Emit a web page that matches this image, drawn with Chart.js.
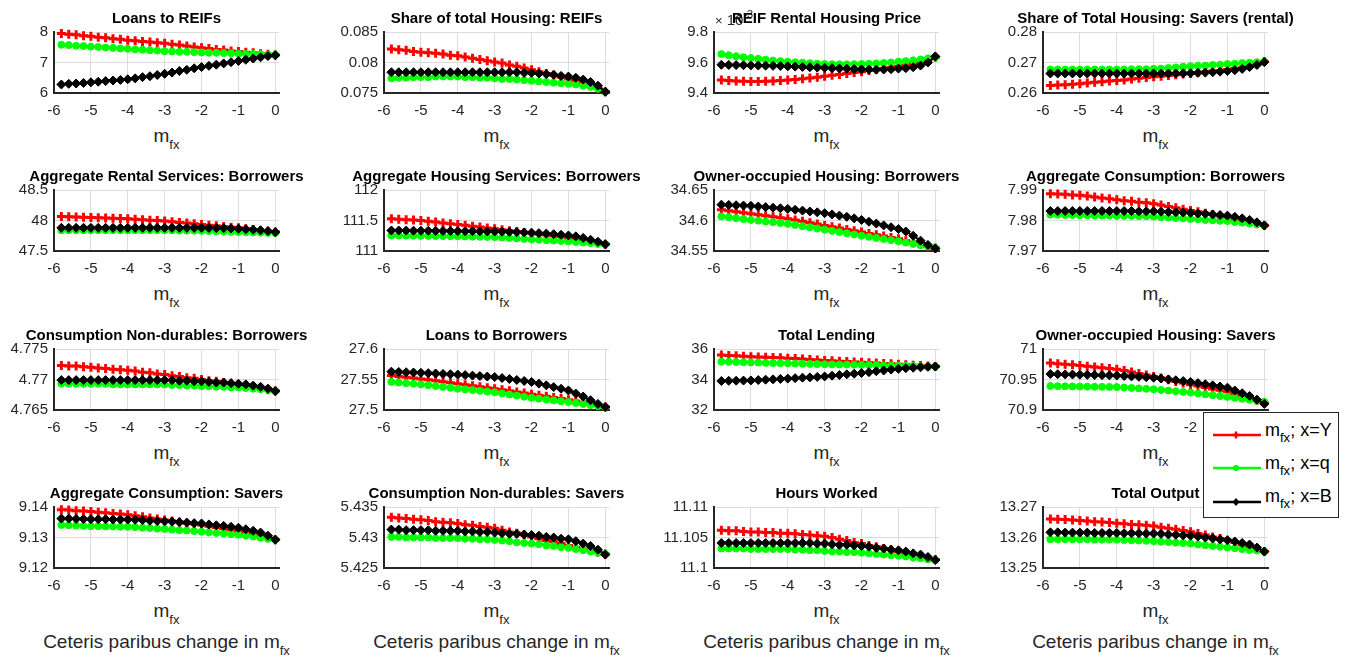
<!DOCTYPE html>
<html><head><meta charset="utf-8">
<script src="https://cdn.jsdelivr.net/npm/chart.js@4/dist/chart.umd.min.js"></script>
<style>
body{margin:0;width:1352px;height:662px;background:#fff;position:relative;overflow:hidden;font-family:"Liberation Sans",Arial,sans-serif;color:#262626}
canvas.pc{position:absolute}
.ttl{position:absolute;font-weight:bold;font-size:15px;line-height:15px;white-space:nowrap;color:#000;transform:translateX(-50%);z-index:3}
.xl{position:absolute;font-size:19px;line-height:19px;white-space:nowrap;transform:translateX(-50%);color:#262626}
.xl span,.lg span,.expo span{position:relative}
.expo{position:absolute;font-size:15px;line-height:15px;white-space:nowrap;color:#262626;z-index:2}
#legend{position:absolute;left:1203px;top:412px;width:136px;height:106px;box-sizing:border-box;border:1px solid #262626;background:#fff;z-index:5}
.lg{position:absolute;left:61px;font-size:18px;line-height:18px;white-space:nowrap;color:#000}
.ls{position:absolute;left:8px}
</style></head><body>
<script>
// ---- data ----
const xValues = [-5.8,-5.6,-5.4,-5.2,-5.0,-4.8,-4.6,-4.4,-4.2,-4.0,-3.8,-3.6,-3.4,-3.2,-3.0,-2.8,-2.6,-2.4,-2.2,-2.0,-1.8,-1.6,-1.4,-1.2,-1.0,-0.8,-0.6,-0.4,-0.2,0.0];
const xTickValues = [-6,-5,-4,-3,-2,-1,0];
const seriesNames = ["m_fx; x=Y","m_fx; x=q","m_fx; x=B"];

const titles = ["Loans to REIFs","Share of total Housing: REIFs","REIF Rental Housing Price","Share of Total Housing: Savers (rental)",
"Aggregate Rental Services: Borrowers","Aggregate Housing Services: Borrowers","Owner-occupied Housing: Borrowers","Aggregate Consumption: Borrowers",
"Consumption Non-durables: Borrowers","Loans to Borrowers","Total Lending","Owner-occupied Housing: Savers",
"Aggregate Consumption: Savers","Consumption Non-durables: Savers","Hours Worked","Total Output"];

const yTicks = [[6,7,8],[0.075,0.08,0.085],[9.4,9.6,9.8],[0.26,0.27,0.28],
[47.5,48,48.5],[111,111.5,112],[34.55,34.6,34.65],[7.97,7.98,7.99],
[4.765,4.77,4.775],[27.5,27.55,27.6],[32,34,36],[70.9,70.95,71],
[9.12,9.13,9.14],[5.425,5.43,5.435],[11.1,11.105,11.11],[13.25,13.26,13.27]];
const yTickLabels = [["6","7","8"],["0.075","0.08","0.085"],["9.4","9.6","9.8"],["0.26","0.27","0.28"],
["47.5","48","48.5"],["111","111.5","112"],["34.55","34.6","34.65"],["7.97","7.98","7.99"],
["4.765","4.77","4.775"],["27.5","27.55","27.6"],["32","34","36"],["70.9","70.95","71"],
["9.12","9.13","9.14"],["5.425","5.43","5.435"],["11.1","11.105","11.11"],["13.25","13.26","13.27"]];

// 1 Loans to REIFs
const loansREIF_Y = [7.95,7.93,7.91,7.88,7.86,7.83,7.81,7.78,7.76,7.73,7.71,7.69,7.67,7.65,7.63,7.60,7.57,7.54,7.51,7.48,7.46,7.43,7.41,7.38,7.36,7.34,7.32,7.29,7.27,7.25];
const loansREIF_q = [7.58,7.57,7.55,7.54,7.52,7.51,7.49,7.48,7.46,7.45,7.43,7.42,7.40,7.39,7.37,7.36,7.35,7.35,7.34,7.33,7.32,7.32,7.31,7.30,7.29,7.28,7.28,7.27,7.26,7.25];
const loansREIF_B = [6.28,6.30,6.31,6.33,6.35,6.37,6.39,6.41,6.43,6.45,6.48,6.52,6.55,6.59,6.63,6.67,6.72,6.76,6.81,6.85,6.89,6.93,6.97,7.01,7.05,7.09,7.13,7.17,7.21,7.24];
// 2 Share of total Housing: REIFs
const shareREIF_Y = [0.0822,0.0821,0.0820,0.0818,0.0817,0.0816,0.0815,0.0814,0.0812,0.0811,0.0809,0.0807,0.0805,0.0803,0.0801,0.0799,0.0796,0.0794,0.0791,0.0788,0.0785,0.0782,0.0779,0.0776,0.0773,0.0770,0.0767,0.0763,0.0758,0.0752];
const shareREIF_q = [0.0774,0.0775,0.0775,0.0776,0.0776,0.0776,0.0777,0.0777,0.0777,0.0777,0.0776,0.0776,0.0775,0.0775,0.0774,0.0773,0.0773,0.0772,0.0771,0.0770,0.0769,0.0768,0.0767,0.0766,0.0765,0.0764,0.0762,0.0760,0.0757,0.0752];
const shareREIF_B = [0.0784,0.0784,0.0784,0.0784,0.0784,0.0784,0.0784,0.0784,0.0784,0.0784,0.0784,0.0784,0.0784,0.0784,0.0784,0.0784,0.0784,0.0784,0.0783,0.0783,0.0782,0.0781,0.0780,0.0778,0.0777,0.0775,0.0772,0.0768,0.0762,0.0752];
// 3 REIF Rental Housing Price (x 10^-3)
const rentPrice_Y = [9.485,9.482,9.479,9.477,9.476,9.476,9.477,9.479,9.482,9.485,9.489,9.494,9.499,9.504,9.510,9.516,9.522,9.528,9.534,9.540,9.547,9.554,9.561,9.568,9.575,9.584,9.594,9.605,9.619,9.635];
const rentPrice_q = [9.655,9.648,9.641,9.635,9.630,9.624,9.618,9.613,9.609,9.605,9.601,9.598,9.595,9.592,9.590,9.589,9.588,9.588,9.589,9.590,9.592,9.594,9.597,9.600,9.605,9.609,9.614,9.620,9.627,9.635];
const rentPrice_B = [9.585,9.584,9.583,9.582,9.581,9.580,9.579,9.578,9.577,9.575,9.573,9.571,9.569,9.567,9.565,9.563,9.561,9.559,9.557,9.555,9.554,9.553,9.554,9.556,9.560,9.563,9.569,9.580,9.600,9.640];
// 4 Share of Total Housing: Savers (rental)
const shareSavers_Y = [0.2625,0.2626,0.2627,0.2629,0.2630,0.2633,0.2635,0.2637,0.2639,0.2641,0.2643,0.2646,0.2648,0.2651,0.2653,0.2655,0.2657,0.2660,0.2662,0.2664,0.2667,0.2669,0.2672,0.2674,0.2677,0.2680,0.2683,0.2687,0.2694,0.2703];
const shareSavers_q = [0.2677,0.2677,0.2677,0.2677,0.2677,0.2677,0.2677,0.2677,0.2677,0.2677,0.2677,0.2678,0.2678,0.2678,0.2679,0.2680,0.2682,0.2684,0.2686,0.2688,0.2689,0.2690,0.2692,0.2693,0.2695,0.2696,0.2698,0.2699,0.2701,0.2703];
const shareSavers_B = [0.2664,0.2664,0.2664,0.2664,0.2664,0.2664,0.2664,0.2664,0.2664,0.2664,0.2664,0.2664,0.2664,0.2664,0.2664,0.2664,0.2664,0.2664,0.2665,0.2665,0.2666,0.2667,0.2668,0.2670,0.2672,0.2675,0.2679,0.2685,0.2692,0.2701];
// 5 Aggregate Rental Services: Borrowers
const rentServB_Y = [48.065,48.061,48.057,48.053,48.049,48.045,48.042,48.038,48.034,48.030,48.022,48.014,48.006,47.998,47.990,47.979,47.968,47.957,47.946,47.935,47.924,47.913,47.902,47.891,47.880,47.866,47.852,47.838,47.824,47.810];
const rentServB_q = [47.840,47.840,47.840,47.840,47.840,47.840,47.840,47.840,47.840,47.840,47.840,47.840,47.840,47.840,47.840,47.838,47.836,47.834,47.832,47.830,47.826,47.822,47.818,47.814,47.810,47.807,47.804,47.801,47.798,47.795];
const rentServB_B = [47.880,47.880,47.880,47.880,47.880,47.880,47.880,47.880,47.880,47.880,47.880,47.880,47.880,47.880,47.880,47.880,47.880,47.880,47.880,47.880,47.879,47.877,47.874,47.870,47.865,47.858,47.850,47.840,47.827,47.810];
// 6 Aggregate Housing Services: Borrowers
const houseServB_Y = [111.527,111.520,111.513,111.507,111.500,111.487,111.474,111.461,111.448,111.435,111.421,111.407,111.393,111.378,111.364,111.349,111.334,111.320,111.305,111.290,111.275,111.261,111.246,111.232,111.217,111.197,111.176,111.155,111.133,111.110];
const houseServB_q = [111.255,111.253,111.252,111.250,111.248,111.247,111.245,111.244,111.242,111.240,111.238,111.235,111.233,111.230,111.228,111.221,111.213,111.205,111.198,111.190,111.184,111.177,111.171,111.164,111.158,111.149,111.139,111.130,111.120,111.110];
const houseServB_B = [111.337,111.336,111.335,111.333,111.332,111.331,111.330,111.329,111.328,111.326,111.325,111.324,111.323,111.321,111.320,111.317,111.314,111.310,111.305,111.300,111.293,111.285,111.276,111.266,111.255,111.240,111.215,111.185,111.152,111.110];
// 7 Owner-occupied Housing: Borrowers
const ownerB_Y = [34.6176,34.6160,34.6143,34.6127,34.6110,34.6094,34.6078,34.6062,34.6046,34.6030,34.6008,34.5986,34.5964,34.5942,34.5920,34.5898,34.5876,34.5854,34.5832,34.5810,34.5788,34.5766,34.5744,34.5722,34.5700,34.5670,34.5640,34.5610,34.5580,34.5550];
const ownerB_q = [34.6066,34.6052,34.6038,34.6024,34.6010,34.5997,34.5984,34.5971,34.5958,34.5945,34.5926,34.5907,34.5888,34.5869,34.5850,34.5830,34.5810,34.5790,34.5770,34.5750,34.5732,34.5714,34.5696,34.5678,34.5660,34.5638,34.5616,34.5594,34.5572,34.5550];
const ownerB_B = [34.6260,34.6255,34.6250,34.6245,34.6240,34.6230,34.6220,34.6210,34.6200,34.6190,34.6176,34.6162,34.6148,34.6134,34.6120,34.6100,34.6080,34.6060,34.6035,34.6010,34.5980,34.5950,34.5920,34.5890,34.5860,34.5820,34.5750,34.5670,34.5600,34.5540];
// 8 Aggregate Consumption: Borrowers
const consB_Y = [7.9888,7.9887,7.9886,7.9884,7.9883,7.9880,7.9877,7.9874,7.9871,7.9868,7.9865,7.9863,7.9860,7.9858,7.9855,7.9851,7.9846,7.9842,7.9837,7.9833,7.9829,7.9824,7.9820,7.9815,7.9811,7.9806,7.9800,7.9795,7.9789,7.9784];
const consB_q = [7.9819,7.9819,7.9818,7.9818,7.9817,7.9817,7.9816,7.9816,7.9816,7.9815,7.9815,7.9815,7.9814,7.9814,7.9813,7.9811,7.9810,7.9808,7.9807,7.9805,7.9804,7.9802,7.9801,7.9799,7.9798,7.9795,7.9793,7.9790,7.9787,7.9784];
const consB_B = [7.9831,7.9831,7.9831,7.9831,7.9831,7.9831,7.9831,7.9831,7.9831,7.9831,7.9831,7.9831,7.9830,7.9830,7.9830,7.9829,7.9828,7.9827,7.9826,7.9825,7.9823,7.9822,7.9820,7.9818,7.9816,7.9812,7.9807,7.9802,7.9794,7.9784];
// 9 Consumption Non-durables: Borrowers
const ndurB_Y = [4.7723,4.7722,4.7722,4.7721,4.7720,4.7719,4.7718,4.7717,4.7716,4.7715,4.7714,4.7712,4.7711,4.7709,4.7708,4.7706,4.7705,4.7703,4.7702,4.7700,4.7698,4.7697,4.7695,4.7694,4.7692,4.7690,4.7688,4.7686,4.7683,4.7681];
const ndurB_q = [4.7693,4.7693,4.7693,4.7693,4.7693,4.7693,4.7693,4.7692,4.7692,4.7692,4.7692,4.7692,4.7692,4.7692,4.7692,4.7691,4.7691,4.7690,4.7690,4.7689,4.7689,4.7688,4.7688,4.7687,4.7687,4.7686,4.7685,4.7684,4.7683,4.7681];
const ndurB_B = [4.7699,4.7699,4.7699,4.7699,4.7699,4.7699,4.7699,4.7699,4.7699,4.7699,4.7699,4.7699,4.7699,4.7699,4.7699,4.7699,4.7698,4.7698,4.7697,4.7697,4.7696,4.7695,4.7695,4.7694,4.7693,4.7692,4.7690,4.7688,4.7685,4.7681];
// 10 Loans to Borrowers
const loansB_Y = [27.5565,27.5551,27.5537,27.5524,27.5510,27.5494,27.5478,27.5462,27.5446,27.5430,27.5414,27.5398,27.5382,27.5366,27.5350,27.5332,27.5314,27.5296,27.5278,27.5260,27.5242,27.5224,27.5206,27.5188,27.5170,27.5146,27.5122,27.5098,27.5074,27.5050];
const loansB_q = [27.5460,27.5450,27.5440,27.5430,27.5420,27.5406,27.5392,27.5378,27.5364,27.5350,27.5338,27.5326,27.5314,27.5302,27.5290,27.5272,27.5254,27.5236,27.5218,27.5200,27.5186,27.5172,27.5158,27.5144,27.5130,27.5114,27.5098,27.5082,27.5066,27.5050];
const loansB_B = [27.5629,27.5624,27.5619,27.5615,27.5610,27.5604,27.5598,27.5592,27.5586,27.5580,27.5572,27.5564,27.5556,27.5548,27.5540,27.5524,27.5508,27.5492,27.5476,27.5460,27.5432,27.5404,27.5376,27.5348,27.5320,27.5270,27.5220,27.5160,27.5100,27.5050];
// 11 Total Lending
const lending_Y = [35.60,35.57,35.55,35.52,35.50,35.48,35.46,35.44,35.42,35.40,35.37,35.34,35.31,35.28,35.25,35.23,35.20,35.18,35.15,35.13,35.10,35.08,35.05,35.03,35.00,34.97,34.94,34.91,34.88,34.85];
const lending_q = [35.17,35.16,35.14,35.13,35.12,35.11,35.09,35.08,35.07,35.06,35.05,35.04,35.02,35.01,35.00,34.99,34.98,34.98,34.97,34.96,34.95,34.94,34.93,34.91,34.90,34.89,34.88,34.87,34.86,34.85];
const lending_B = [33.90,33.91,33.92,33.93,33.94,33.96,33.99,34.01,34.04,34.06,34.09,34.12,34.14,34.17,34.20,34.25,34.29,34.34,34.38,34.43,34.48,34.54,34.59,34.65,34.70,34.74,34.77,34.80,34.83,34.85];
// 12 Owner-occupied Housing: Savers
const ownerS_Y = [70.9769,70.9759,70.9750,70.9740,70.9730,70.9718,70.9706,70.9694,70.9682,70.9670,70.9646,70.9622,70.9598,70.9574,70.9550,70.9523,70.9496,70.9469,70.9442,70.9415,70.9392,70.9369,70.9346,70.9323,70.9300,70.9264,70.9228,70.9192,70.9156,70.9120];
const ownerS_q = [70.9392,70.9390,70.9388,70.9387,70.9385,70.9383,70.9381,70.9380,70.9378,70.9376,70.9369,70.9362,70.9354,70.9347,70.9340,70.9329,70.9318,70.9307,70.9296,70.9285,70.9271,70.9257,70.9243,70.9229,70.9215,70.9199,70.9183,70.9166,70.9150,70.9134];
const ownerS_B = [70.9590,70.9587,70.9584,70.9582,70.9579,70.9576,70.9573,70.9571,70.9568,70.9565,70.9558,70.9551,70.9544,70.9537,70.9530,70.9516,70.9502,70.9488,70.9474,70.9460,70.9441,70.9422,70.9404,70.9385,70.9366,70.9320,70.9275,70.9230,70.9170,70.9100];
// 13 Aggregate Consumption: Savers
const consS_Y = [9.1391,9.1390,9.1388,9.1387,9.1385,9.1383,9.1381,9.1379,9.1377,9.1375,9.1371,9.1368,9.1364,9.1361,9.1357,9.1354,9.1351,9.1347,9.1344,9.1341,9.1337,9.1333,9.1329,9.1325,9.1321,9.1315,9.1310,9.1304,9.1299,9.1293];
const consS_q = [9.1341,9.1340,9.1339,9.1338,9.1337,9.1337,9.1336,9.1336,9.1335,9.1335,9.1334,9.1332,9.1331,9.1329,9.1328,9.1326,9.1324,9.1323,9.1321,9.1319,9.1317,9.1315,9.1313,9.1311,9.1309,9.1306,9.1303,9.1299,9.1296,9.1293];
const consS_B = [9.1362,9.1362,9.1361,9.1361,9.1360,9.1360,9.1360,9.1359,9.1359,9.1359,9.1358,9.1357,9.1355,9.1354,9.1353,9.1352,9.1350,9.1349,9.1347,9.1346,9.1343,9.1340,9.1338,9.1335,9.1332,9.1327,9.1322,9.1316,9.1306,9.1293];
// 14 Consumption Non-durables: Savers
const ndurS_Y = [5.4333,5.4332,5.4331,5.4330,5.4329,5.4328,5.4326,5.4325,5.4324,5.4323,5.4321,5.4320,5.4318,5.4317,5.4315,5.4312,5.4309,5.4307,5.4304,5.4301,5.4298,5.4295,5.4293,5.4290,5.4287,5.4284,5.4281,5.4279,5.4276,5.4273];
const ndurS_q = [5.4301,5.4301,5.4300,5.4300,5.4300,5.4300,5.4299,5.4299,5.4299,5.4299,5.4298,5.4298,5.4297,5.4297,5.4296,5.4295,5.4294,5.4292,5.4291,5.4290,5.4289,5.4287,5.4286,5.4284,5.4283,5.4281,5.4279,5.4277,5.4275,5.4273];
const ndurS_B = [5.4313,5.4313,5.4312,5.4312,5.4312,5.4312,5.4311,5.4311,5.4311,5.4311,5.4310,5.4310,5.4309,5.4309,5.4308,5.4307,5.4306,5.4306,5.4305,5.4304,5.4303,5.4301,5.4300,5.4298,5.4297,5.4294,5.4290,5.4286,5.4280,5.4272];
// 15 Hours Worked
const hours_Y = [11.1062,11.1061,11.1061,11.1060,11.1059,11.1059,11.1058,11.1058,11.1057,11.1057,11.1056,11.1055,11.1054,11.1053,11.1052,11.1050,11.1047,11.1045,11.1042,11.1040,11.1037,11.1035,11.1032,11.1030,11.1027,11.1024,11.1022,11.1019,11.1017,11.1014];
const hours_q = [11.1032,11.1032,11.1032,11.1032,11.1031,11.1031,11.1031,11.1031,11.1031,11.1031,11.1030,11.1030,11.1029,11.1029,11.1028,11.1027,11.1027,11.1026,11.1026,11.1025,11.1024,11.1023,11.1022,11.1021,11.1020,11.1019,11.1017,11.1016,11.1014,11.1013];
const hours_B = [11.1041,11.1041,11.1041,11.1041,11.1041,11.1041,11.1041,11.1041,11.1041,11.1041,11.1041,11.1041,11.1041,11.1040,11.1040,11.1039,11.1038,11.1038,11.1037,11.1036,11.1035,11.1033,11.1032,11.1030,11.1029,11.1027,11.1024,11.1022,11.1018,11.1013];
// 16 Total Output
const output_Y = [13.2661,13.2660,13.2659,13.2657,13.2656,13.2654,13.2652,13.2651,13.2649,13.2647,13.2645,13.2643,13.2642,13.2640,13.2638,13.2634,13.2630,13.2627,13.2623,13.2619,13.2613,13.2608,13.2602,13.2597,13.2591,13.2584,13.2576,13.2569,13.2561,13.2554];
const output_q = [13.2594,13.2594,13.2594,13.2594,13.2594,13.2594,13.2593,13.2593,13.2593,13.2593,13.2592,13.2591,13.2590,13.2589,13.2588,13.2586,13.2585,13.2583,13.2582,13.2580,13.2577,13.2575,13.2572,13.2570,13.2567,13.2565,13.2562,13.2559,13.2557,13.2554];
const output_B = [13.2617,13.2617,13.2616,13.2616,13.2616,13.2616,13.2615,13.2615,13.2615,13.2615,13.2614,13.2614,13.2614,13.2613,13.2613,13.2612,13.2610,13.2609,13.2607,13.2606,13.2603,13.2600,13.2597,13.2594,13.2591,13.2587,13.2582,13.2577,13.2567,13.2554];

const seriesY = [loansREIF_Y,shareREIF_Y,rentPrice_Y,shareSavers_Y,rentServB_Y,houseServB_Y,ownerB_Y,consB_Y,ndurB_Y,loansB_Y,lending_Y,ownerS_Y,consS_Y,ndurS_Y,hours_Y,output_Y];
const seriesQ = [loansREIF_q,shareREIF_q,rentPrice_q,shareSavers_q,rentServB_q,houseServB_q,ownerB_q,consB_q,ndurB_q,loansB_q,lending_q,ownerS_q,consS_q,ndurS_q,hours_q,output_q];
const seriesB = [loansREIF_B,shareREIF_B,rentPrice_B,shareSavers_B,rentServB_B,houseServB_B,ownerB_B,consB_B,ndurB_B,loansB_B,lending_B,ownerS_B,consS_B,ndurS_B,hours_B,output_B];

// ---- layout ----
const colLeft = [54, 384, 714, 1043];
const rowTop = [29, 187, 346, 504];
const plotW = 225, plotH = 64;
const padL = 60, padR = 10, padT = 12, padB = 30;
const FONT = '"Liberation Sans", Arial, sans-serif';
const TXT = '#262626';

function pts(arr){ return arr.map((v,i)=>({x:xValues[i], y:v})); }

function addDiv(cls, html, left, top){
  const d = document.createElement('div');
  d.className = cls; d.innerHTML = html;
  d.style.left = left + 'px'; d.style.top = top + 'px';
  document.body.appendChild(d);
  return d;
}

for (let p = 0; p < 16; p++) {
  const r = Math.floor(p / 4), c = p % 4;
  const L = colLeft[c], T = rowTop[r];
  const cv = document.createElement('canvas');
  cv.className = 'pc';
  cv.width = padL + plotW + padR; cv.height = padT + plotH + padB;
  cv.style.left = (L - padL) + 'px'; cv.style.top = (T - padT) + 'px';
  cv.style.width = cv.width + 'px'; cv.style.height = cv.height + 'px';
  document.body.appendChild(cv);
  const ticks = yTicks[p], labels = yTickLabels[p];
  new Chart(cv.getContext('2d'), {
    type: 'line',
    data: { datasets: [
      { label: seriesNames[0], data: pts(seriesY[p]), borderColor: '#ff0000', borderWidth: 2, pointStyle: 'cross', pointRadius: 4.5, pointBorderWidth: 3, pointBorderColor: '#ff0000', pointBackgroundColor: '#ff0000', order: 3, clip: false },
      { label: seriesNames[1], data: pts(seriesQ[p]), borderColor: '#00ff00', borderWidth: 2, pointStyle: 'circle', pointRadius: 3.5, pointBorderWidth: 1, pointBorderColor: '#00ff00', pointBackgroundColor: '#00ff00', order: 2, clip: false },
      { label: seriesNames[2], data: pts(seriesB[p]), borderColor: '#000000', borderWidth: 2, pointStyle: 'rectRot', pointRadius: 4.5, pointBorderWidth: 1, pointBorderColor: '#000000', pointBackgroundColor: '#000000', order: 1, clip: false }
    ]},
    options: {
      responsive: false, animation: false, devicePixelRatio: 1, events: [],
      layout: { padding: { left: 0, right: padR, top: padT, bottom: 0 } },
      plugins: { legend: { display: false }, tooltip: { enabled: false }, title: { display: false } },
      elements: { line: { tension: 0 } },
      scales: {
        x: {
          type: 'linear', min: -6, max: 0.1,
          afterBuildTicks: s => { s.ticks = xTickValues.map(v => ({ value: v })); },
          afterFit: s => { s.height = padB; },
          grid: { color: '#dcdcdc', lineWidth: 1, drawTicks: false },
          border: { display: true, color: TXT, width: 2 },
          ticks: { font: { family: FONT, size: 15 }, color: TXT, padding: 9, maxRotation: 0, autoSkip: false, callback: v => String(v) }
        },
        y: {
          type: 'linear', min: ticks[0], max: ticks[ticks.length - 1],
          afterBuildTicks: s => { s.ticks = ticks.map(v => ({ value: v })); },
          afterFit: s => { s.width = padL; },
          grid: { color: '#dcdcdc', lineWidth: 1, drawTicks: false },
          border: { display: true, color: TXT, width: 2 },
          ticks: { font: { family: FONT, size: 15 }, color: TXT, padding: 6, autoSkip: false, callback: (v, i) => labels[i] }
        }
      }
    }
  });
  const cx = L + plotW / 2;
  addDiv('ttl', titles[p], cx, T - 19);
  addDiv('xl', 'm<span style="font-size:13px;top:7px">fx</span>', cx, T + plotH + 33);
  if (r === 3) addDiv('xl', 'Ceteris paribus change in m<span style="font-size:13px;top:7px">fx</span>', cx, 632);
  if (p === 2) addDiv('expo', '<span style="font-size:13px">&times;</span> 10<span style="font-size:11px;top:-7px">-3</span>', L + 1, T - 17);
}

// ---- legend ----
const lg = document.createElement('div'); lg.id = 'legend';
const marks = [
  '<line x1="24" y1="2.5" x2="24" y2="9.5" stroke="#ff0000" stroke-width="2.5"/><line x1="20.5" y1="6" x2="27.5" y2="6" stroke="#ff0000" stroke-width="2.5"/>',
  '<circle cx="24" cy="6" r="3" fill="#00ff00"/>',
  '<polygon points="24,2 27.5,6 24,10 20.5,6" fill="#000"/>'
];
const cols = ['#ff0000', '#00ff00', '#000000'];
const letters = ['Y', 'q', 'B'];
for (let k = 0; k < 3; k++) {
  const yc = 20 + k * 33.3;
  const s = document.createElement('div'); s.className = 'ls'; s.style.top = (yc - 6) + 'px';
  s.innerHTML = '<svg width="50" height="12"><line x1="1" y1="6" x2="49" y2="6" stroke="' + cols[k] + '" stroke-width="2.5"/>' + marks[k] + '</svg>';
  lg.appendChild(s);
  const t = document.createElement('div'); t.className = 'lg'; t.style.top = (yc - 12.5) + 'px';
  t.innerHTML = 'm<span style="font-size:13px;top:6px">fx</span>; x=' + letters[k];
  lg.appendChild(t);
}
document.body.appendChild(lg);
</script>
</body></html>
